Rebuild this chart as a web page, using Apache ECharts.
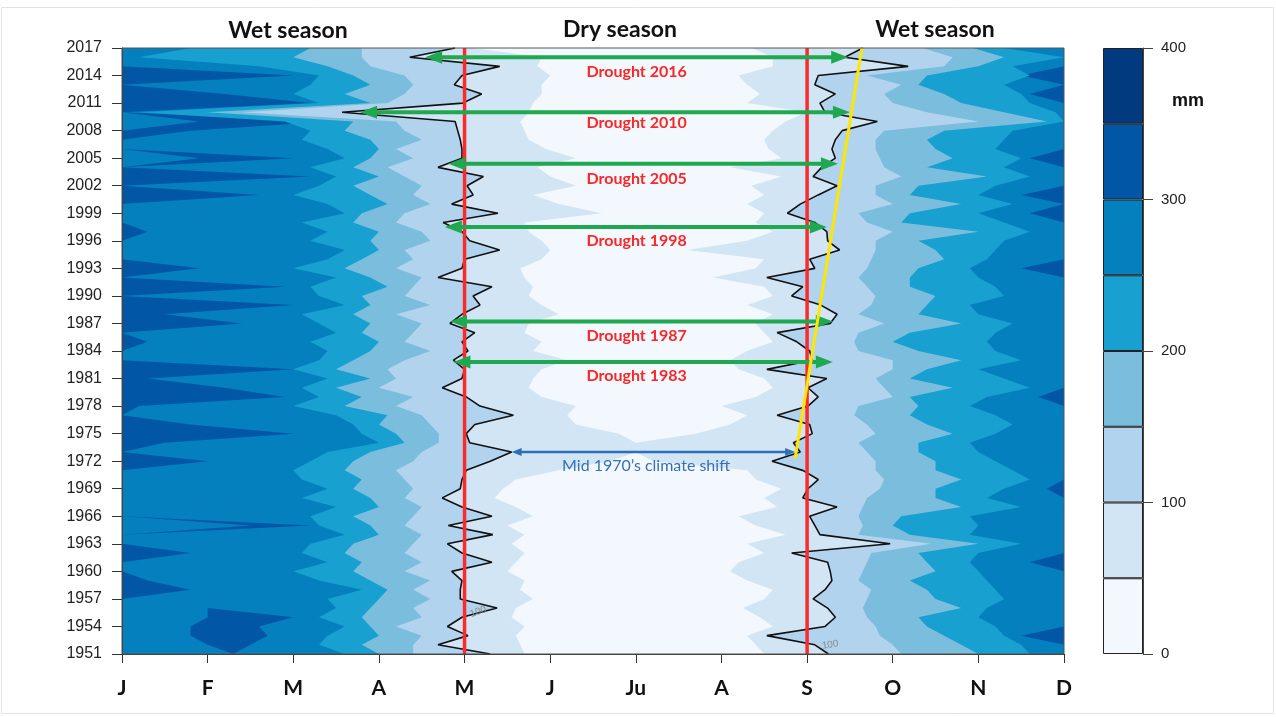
<!DOCTYPE html>
<html><head><meta charset="utf-8">
<script src="https://cdn.jsdelivr.net/npm/echarts@6/dist/echarts.min.js"></script>
<style>html,body{margin:0;padding:0;background:#fff;}#c{width:1276px;height:717px;}</style>
</head><body><div id="c"></div>
<script>
// ---------- categories / ticks ----------
const monthLabels = ['J','F','M','A','M','J','Ju','A','S','O','N','D'];
const firstYear = 1951, lastYear = 2017, yearStep = 3;
const years = [];
for (let y = firstYear; y <= lastYear; y++) years.push(y);
const levelEdges = [0, 50, 100, 150, 200, 250, 300, 350, 400];
const levelColors = ['#f2f8fd','#d2e5f4','#b2d3ed','#7bbddd','#17a0d0','#0480be','#0157a6','#023a80'];

// ---------- contour positions (month units, 1 = Jan ... 12 = Dec), years 1951..2017 ----------
// 100 mm contour (black line): onset side and end side
const c100L = [5.30,4.69,5.04,4.80,4.97,5.38,4.95,4.95,4.97,4.85,
               5.32,4.97,4.80,5.33,4.81,5.32,4.97,4.74,4.95,4.97,
               5.02,5.30,5.55,5.06,5.02,5.12,5.57,5.18,5.02,4.74,
               4.97,5.00,4.87,5.04,4.97,5.12,4.83,4.97,5.18,5.10,
               5.32,4.69,4.97,5.00,5.41,5.06,4.97,4.75,5.39,4.85,
               5.10,5.03,5.22,4.69,4.97,4.97,4.95,4.92,4.89,3.57,
               4.98,5.20,4.88,4.97,5.41,4.36,4.89];
const c100R = [9.25,9.09,8.53,9.21,9.33,9.24,9.07,9.21,9.29,9.27,
               9.24,8.82,9.97,9.15,9.09,9.03,9.35,8.95,9.01,9.13,
               8.95,8.59,8.92,8.84,9.06,9.03,8.65,9.01,9.13,9.01,
               9.23,8.53,9.06,9.03,8.88,8.65,9.27,9.35,9.16,8.82,
               8.95,8.53,9.09,9.03,9.38,9.24,9.23,9.09,8.77,8.92,
               9.13,9.35,9.07,9.17,9.33,9.29,9.33,9.41,9.82,9.21,
               9.15,9.33,9.09,9.13,10.18,9.44,9.65];
// 250 / 200 / 150 mm contours, wet-to-dry side
const c250L = [3.6,3.3,3.4,3.6,3.3,3.5,3.4,3.8,3.3,3.0,
               3.4,3.1,3.2,3.6,3.3,3.2,3.5,3.1,3.4,3.1,
               3.0,3.2,3.4,4.0,3.8,3.7,3.5,3.0,3.3,3.1,
               3.4,3.0,3.3,3.4,3.2,3.5,3.3,3.1,3.6,3.3,
               3.2,3.5,3.0,3.4,3.6,3.2,3.4,3.1,3.6,3.4,
               3.0,3.3,3.5,3.2,3.6,3.4,3.1,3.2,2.9,1.2,
               3.3,3.0,3.2,3.3,2.6,1.2,1.8];
const c200L = [4.0,3.8,4.0,3.9,3.8,3.9,4.0,4.1,3.9,3.7,
               3.8,3.6,3.7,4.0,3.9,3.7,4.0,3.9,3.7,3.8,
               3.6,3.7,3.9,4.3,4.2,4.0,4.1,3.6,3.8,3.5,
               3.9,3.5,3.7,3.9,4.0,3.8,3.9,3.7,3.9,3.8,
               4.1,3.9,3.6,3.8,4.0,3.9,4.0,3.7,3.8,4.1,
               3.9,3.7,4.0,3.7,3.9,4.0,3.9,3.6,3.7,2.0,
               3.9,3.6,3.9,3.7,3.4,3.0,3.2];
const c150L = [4.4,4.4,4.5,4.2,4.5,4.4,4.6,4.4,4.6,4.3,
               4.5,4.3,4.4,4.5,4.3,4.4,4.5,4.3,4.4,4.3,
               4.2,4.4,4.5,4.7,4.7,4.6,4.5,4.2,4.4,4.0,
               4.2,4.1,4.3,4.6,4.3,4.4,4.5,4.2,4.6,4.3,
               4.4,4.5,4.2,4.4,4.3,4.6,4.5,4.2,4.3,4.6,
               4.4,4.5,4.3,4.1,4.4,4.2,4.5,4.3,4.2,2.4,
               4.1,4.3,4.4,4.3,3.9,3.8,3.8];
// 150 / 200 / 250 mm contours, dry-to-wet side
const c150R = [10.1,10.0,9.85,9.8,9.7,9.65,9.7,9.75,9.6,9.65,
               9.7,9.75,10.45,9.6,9.65,9.6,9.65,9.7,9.85,9.9,
               9.8,9.8,9.7,9.6,9.8,9.7,9.55,9.6,10.0,9.9,
               9.8,10.0,10.0,9.6,9.55,9.6,9.9,9.6,9.75,9.8,
               9.7,9.6,9.7,9.75,9.8,9.8,10.0,9.7,9.6,10.0,
               9.8,9.8,10.1,9.9,9.85,9.8,9.8,9.9,11.0,10.4,
               10.0,9.9,10.1,9.7,10.6,10.7,10.35];
const c200R = [11.0,10.8,10.6,10.4,10.3,10.8,10.5,10.4,10.2,10.5,
               10.4,10.3,11.0,10.2,10.0,10.1,10.8,10.5,10.5,10.8,
               10.5,10.5,10.3,10.3,10.7,10.4,10.2,10.3,10.2,10.7,
               10.2,10.4,10.8,10.3,10.0,10.2,10.8,10.3,10.4,10.5,
               10.2,10.2,10.3,10.6,10.5,10.3,11.0,10.1,10.2,10.8,
               10.2,10.3,11.1,10.4,10.7,10.5,10.4,10.6,11.8,11.3,
               10.8,10.6,10.3,10.4,11.0,11.3,10.94];
const c250R = [11.6,11.5,11.3,11.2,11.0,11.1,11.3,11.2,11.1,11.0,
               10.9,11.0,11.5,10.9,11.0,10.9,11.5,11.1,11.3,11.6,
               11.4,11.2,11.0,10.9,11.2,11.4,11.2,10.9,11.1,11.6,
               11.3,11.0,11.5,11.2,11.1,11.2,11.4,11.0,10.9,11.3,
               11.2,11.0,10.9,11.1,11.2,11.3,11.6,11.3,11.0,11.4,
               11.0,11.2,11.6,11.3,11.5,11.2,11.3,11.4,12.0,11.9,
               11.6,11.5,11.3,11.6,11.4,12.0,11.3];
// 50 mm contour (driest core)
const c50L = [5.7,5.65,5.6,5.7,5.55,5.6,5.8,5.65,5.7,5.5,
              5.6,5.7,5.55,5.7,5.5,5.8,5.6,5.35,5.45,5.6,
              6.1,6.7,7.0,7.0,6.8,6.3,6.2,6.3,5.9,5.75,
              5.8,5.9,6.2,5.8,5.9,5.7,5.75,6.1,5.9,5.75,
              5.8,5.7,5.65,5.9,6.0,5.9,5.75,5.7,6.6,6.1,
              5.8,6.3,6.0,5.85,6.3,5.95,5.75,5.7,5.65,5.75,
              5.8,5.9,5.9,6.0,5.85,5.9,5.1];
const c50R = [8.5,8.4,8.3,8.6,8.45,8.25,8.5,8.6,8.3,8.1,
              8.2,8.5,8.3,8.75,8.4,8.2,8.65,8.5,8.7,8.4,
              8.3,7.2,7.0,7.0,7.7,8.1,8.3,8.0,8.4,8.6,
              8.5,8.2,8.1,8.3,8.6,8.5,8.4,8.6,8.3,8.6,
              8.5,7.9,8.4,8.5,7.6,8.3,8.6,8.4,8.5,8.3,
              8.5,8.35,8.7,8.1,8.7,8.55,8.5,8.6,8.75,9.0,
              8.3,8.45,8.3,8.2,8.6,8.6,8.35];
// 300 mm patches (wet season streaks): early-year start/end, late-year start
const c300LStart = [2.3,2.0,1.8,1.8,2.0,2.0,1,1,1,1,
                    1,1,1,1,2.5,1,1,1,1,1,
                    1,1,1,1,1,1,1,1,1,1,
                    1,1,1,1,1,1,1,1,1,1,
                    1,1,1,1,1,1,1,1,1,1,
                    1,1,1,1,1.9,1,1,1,1.9,1,
                    1,1,1,1,1,1,1];
const c300LEnd = [2.3,2.5,2.7,2.6,3.0,2.0,1,1.8,1.3,1,
                  1,1.8,1,1,3.2,1,1,1,1,1,
                  1,2.0,1,1.5,3.0,1.8,1,1.2,2.9,2.2,
                  1.3,3.0,1,1,1.3,1,2.4,1.5,3.0,1,
                  2.9,1,1.9,1,1,1,1.3,1,1,1,
                  2.6,1,3.2,1,3.0,1,1,1.8,3.4,1,
                  3.2,2.2,1,3.0,1,1,1];
const c300RStart = [12,12,11.5,12,12,12,12,12,12,12,
                    11.6,12,12,12,12,12,12,12,11.8,12,
                    12,12,12,12,12,12,12,12,11.7,12,
                    12,12,12,12,12,12,12,12,12,12,
                    12,12,11.5,12,12,12,12,12,11.6,12,
                    11.5,12,12,12,11.6,12,12,12,12,12,
                    12,11.6,12,11.5,12,12,12];

// ---------- annotations ----------
const dryBounds = [5, 9];                       // May, September
const droughtArrows = [[2016.0,4.54,9.48],[2010.0,3.78,9.50],[2004.4,4.81,9.36],
                       [1997.5,4.77,9.23],[1987.2,4.83,9.30],[1982.8,4.87,9.30]];
const shiftArrow = [[1973.0,5.55,8.86]];
const shiftTrend = [[8.86,1972.3],[9.64,2017.0]];
const droughtLabels = [['Drought 2016',7.01,2014.4],['Drought 2010',7.01,2008.8],['Drought 2005',7.01,2002.8],
                       ['Drought 1998',7.01,1996.0],['Drought 1987',7.01,1985.7],['Drought 1983',7.01,1981.3]];
const shiftLabel = [['Mid 1970\u2019s climate shift',7.12,1971.5]];
const contourLabels = [['100',5.16,1955.6,0.35],['100',9.27,1952.0,0.15]];

// ---------- build ----------
const xMin = 1, xMax = 12;
const yo = y => y - firstYear;
const fullL = years.map(() => xMin), fullR = years.map(() => xMax);
const bands = [
  {l: fullL, r: fullR, c: levelColors[5]},
  {l: c300LStart, r: c300LEnd, c: levelColors[6]},
  {l: c300RStart, r: fullR, c: levelColors[6]},
  {l: c250L, r: c250R, c: levelColors[4]},
  {l: c200L, r: c200R, c: levelColors[3]},
  {l: c150L, r: c150R, c: levelColors[2]},
  {l: c100L, r: c100R, c: levelColors[1]},
  {l: c50L, r: c50R, c: levelColors[0]}
];

function arrowSeries(list, color, width, head, headW, z) {
  return {
    type: 'custom', xAxisIndex: 0, yAxisIndex: 0, z: z, clip: false,
    data: list.map(a => [a[1], a[2], yo(a[0])]),
    encode: {x: [0, 1], y: 2},
    renderItem: function (params, api) {
      const y = api.value(2);
      const a = api.coord([api.value(0), y]);
      const b = api.coord([api.value(1), y]);
      const hw = headW / 2;
      return {type: 'group', children: [
        {type: 'line', shape: {x1: a[0] + head * 0.7, y1: a[1], x2: b[0] - head * 0.7, y2: b[1]},
         style: {stroke: color, lineWidth: width}},
        {type: 'polygon', shape: {points: [[a[0], a[1]], [a[0] + head, a[1] - hw], [a[0] + head, a[1] + hw]]},
         style: {fill: color}},
        {type: 'polygon', shape: {points: [[b[0], b[1]], [b[0] - head, b[1] - hw], [b[0] - head, b[1] + hw]]},
         style: {fill: color}}
      ]};
    }
  };
}
function textSeries(list, color, font, z) {
  return {
    type: 'custom', xAxisIndex: 0, yAxisIndex: 0, z: z, clip: false,
    data: list.map((t, i) => [t[1], yo(t[2]), i]),
    encode: {x: 0, y: 1},
    renderItem: function (params, api) {
      const t = list[api.value(2)];
      const p = api.coord([api.value(0), api.value(1)]);
      return {type: 'text', x: p[0], y: p[1], rotation: t[3] || 0,
        style: {text: t[0], fill: color, font: font, align: 'center', verticalAlign: 'middle'}};
    }
  };
}

const series = [];
series.push({
  type: 'custom', xAxisIndex: 0, yAxisIndex: 0, z: 1, clip: true,
  data: bands.map((b, i) => [6, 33, i]),
  encode: {x: 0, y: 1},
  renderItem: function (params, api) {
    const b = bands[api.value(2)];
    const pts = [];
    for (let i = 0; i < years.length; i++) pts.push(api.coord([b.l[i], yo(years[i])]));
    for (let i = years.length - 1; i >= 0; i--) pts.push(api.coord([b.r[i], yo(years[i])]));
    return {type: 'polygon', shape: {points: pts}, style: {fill: b.c}};
  }
});
[c100L, c100R].forEach(arr => series.push({
  type: 'line', xAxisIndex: 0, yAxisIndex: 0, z: 3, symbol: 'none', silent: true,
  data: years.map((y, i) => [arr[i], yo(y)]),
  lineStyle: {color: '#111', width: 1.6}
}));
dryBounds.forEach(m => series.push({
  type: 'line', xAxisIndex: 0, yAxisIndex: 0, z: 4, symbol: 'none',
  data: [[m, 0], [m, yo(lastYear)]],
  lineStyle: {color: '#fb2b2b', width: 3.5}
}));
series.push(arrowSeries(droughtArrows, '#1fa84f', 4, 17, 13, 5));
series.push(arrowSeries(shiftArrow, '#2f6fb8', 2.5, 10, 8, 5));
series.push({
  type: 'line', xAxisIndex: 0, yAxisIndex: 0, z: 6, symbol: 'none',
  data: shiftTrend.map(p => [p[0], yo(p[1])]),
  lineStyle: {color: '#ffe600', width: 3}
});
series.push(textSeries(droughtLabels, '#f8282a', 'bold 16px Lato', 7));
series.push(textSeries(shiftLabel, '#3670b8', '16px Lato', 7));
series.push(textSeries(contourLabels, '#8a8a8a', '10px "Liberation Sans"', 7));
// colour bar
for (let k = 0; k < levelColors.length; k++) {
  series.push({
    type: 'bar', xAxisIndex: 1, yAxisIndex: 1, stack: 'cb', barWidth: '100%', silent: true,
    data: [levelEdges[k + 1] - levelEdges[k]],
    itemStyle: {color: levelColors[k], borderColor: '#222', borderWidth: 1}
  });
}

const chart = echarts.init(document.getElementById('c'), null, {renderer: 'canvas'});
chart.setOption({
  animation: false,
  backgroundColor: '#fff',
  grid: [
    {left: 122, top: 48, width: 942, height: 606, show: false},
    {left: 1103, top: 48, width: 40, height: 606, show: false}
  ],
  xAxis: [
    {type: 'value', gridIndex: 0, min: xMin, max: xMax, interval: 1, z: 10,
     axisLine: {show: true, lineStyle: {color: '#333', width: 1}},
     axisTick: {show: true, length: 9, lineStyle: {color: '#333'}},
     splitLine: {show: false},
     axisLabel: {formatter: v => monthLabels[Math.round(v) - 1], fontFamily: 'Lato', fontWeight: 'bold',
                 fontSize: 21, color: '#111', margin: 24, showMinLabel: true, showMaxLabel: true}},
    {type: 'category', gridIndex: 1, data: ['mm'], show: false}
  ],
  yAxis: [
    {type: 'value', gridIndex: 0, min: 0, max: yo(lastYear), interval: yearStep, z: 10,
     axisLine: {show: true, lineStyle: {color: '#333', width: 1}},
     axisTick: {show: true, length: 10, lineStyle: {color: '#333'}},
     splitLine: {show: false},
     axisLabel: {formatter: v => String(firstYear + v), fontFamily: 'Liberation Sans', fontSize: 16,
                 color: '#222', margin: 20, showMinLabel: true, showMaxLabel: true}},
    {type: 'value', gridIndex: 1, min: 0, max: 400, interval: 100, position: 'right', z: 10,
     axisLine: {show: true, lineStyle: {color: '#444'}},
     axisTick: {show: true, length: 10, lineStyle: {color: '#444'}},
     splitLine: {show: false},
     axisLabel: {fontFamily: 'Liberation Sans', fontSize: 15, color: '#222', margin: 18}}
  ],
  graphic: [
    {type: 'rect', z: 100, silent: true, shape: {x: 122, y: 48, width: 942, height: 606},
     style: {fill: null, stroke: '#555', lineWidth: 1}},
    {type: 'rect', z: 100, silent: true, shape: {x: 1.5, y: 7.5, width: 1272, height: 706},
     style: {fill: null, stroke: '#e2e2e2', lineWidth: 1}},
    {type: 'text', x: 288, y: 31, z: 100, style: {text: 'Wet season', font: 'bold 23px Lato', fill: '#111', align: 'center', verticalAlign: 'middle'}},
    {type: 'text', x: 620, y: 30, z: 100, style: {text: 'Dry season', font: 'bold 23px Lato', fill: '#111', align: 'center', verticalAlign: 'middle'}},
    {type: 'text', x: 935, y: 30, z: 100, style: {text: 'Wet season', font: 'bold 23px Lato', fill: '#111', align: 'center', verticalAlign: 'middle'}},
    {type: 'text', x: 1172, y: 101, z: 100, style: {text: 'mm', font: 'bold 18px "Liberation Sans"', fill: '#111', align: 'left', verticalAlign: 'middle'}}
  ],
  series: series
});
</script></body></html>
